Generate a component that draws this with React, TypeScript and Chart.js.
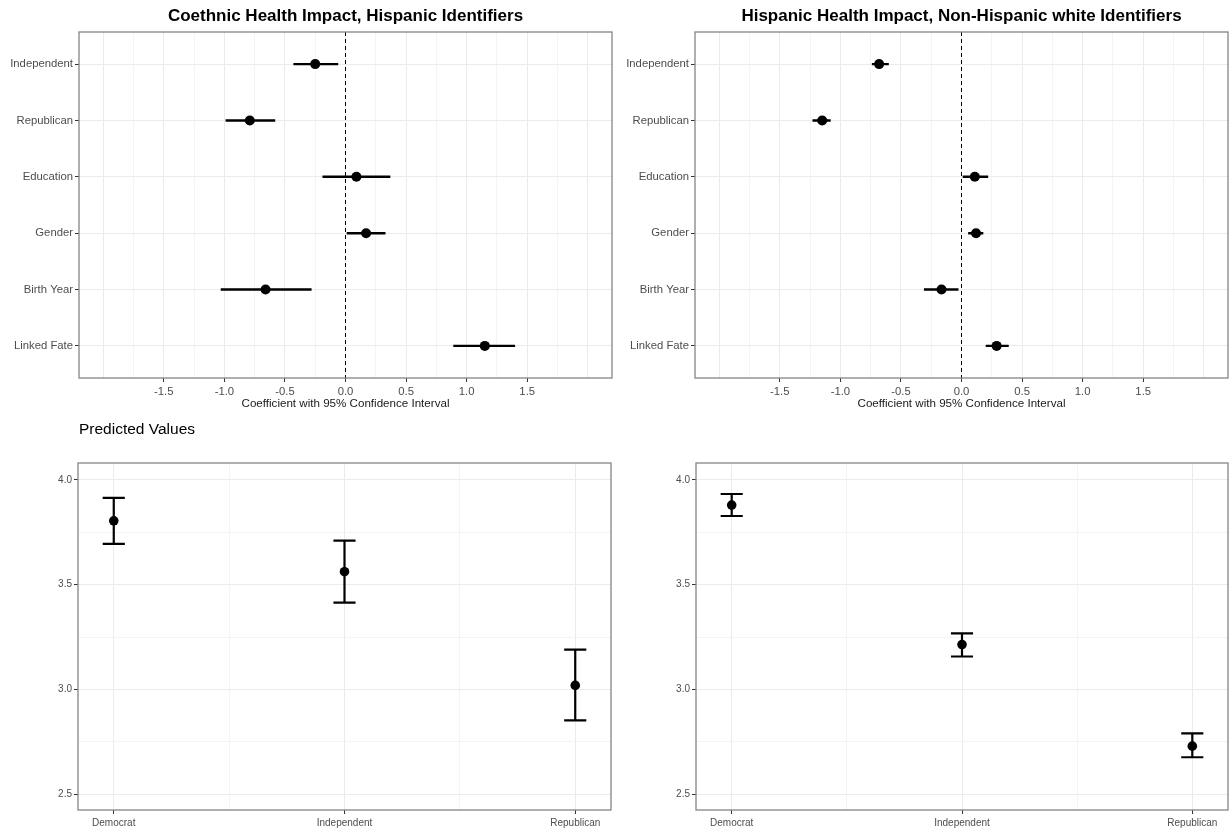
import React, { useEffect, useRef } from "react";
import { Chart, registerables } from "chart.js";

Chart.register(...registerables);

// ---- coefficient panels ----
const coefTerms = ["Independent", "Republican", "Education", "Gender", "Birth Year", "Linked Fate"];
const coefTickLabels = [-1.5, -1.0, -0.5, 0.0, 0.5, 1.0, 1.5];
const zeroRef = 0;

// Coethnic health impact, Hispanic identifiers
const hispEst = [-0.25, -0.79, 0.09, 0.17, -0.66, 1.15];
const hispLow = [-0.43, -0.99, -0.19, 0.01, -1.03, 0.89];
const hispHigh = [-0.06, -0.58, 0.37, 0.33, -0.28, 1.4];

// Hispanic health impact, non-Hispanic white identifiers
const whiteEst = [-0.68, -1.15, 0.11, 0.12, -0.165, 0.29];
const whiteLow = [-0.74, -1.23, 0.01, 0.055, -0.31, 0.2];
const whiteHigh = [-0.6, -1.08, 0.22, 0.18, -0.025, 0.39];

// ---- predicted values panels ----
const parties = ["Democrat", "Independent", "Republican"];
const predTickLabels = [2.5, 3.0, 3.5, 4.0];
const hispPred = [3.805, 3.562, 3.019];
const hispPredLow = [3.695, 3.414, 2.852];
const hispPredHigh = [3.914, 3.71, 3.19];
const whitePred = [3.88, 3.214, 2.729];
const whitePredLow = [3.828, 3.157, 2.676];
const whitePredHigh = [3.933, 3.267, 2.79];

const FONT = "'Liberation Sans', Arial, Helvetica, sans-serif";
const TICK_COL = "#4d4d4d";
const GRID_MAJOR = "#ebebeb";
const GRID_MINOR = "#f4f4f4";
const BORDER_COL = "#858585";
const COEF_X = [-2.2, 2.2];
const COEF_Y = [-0.57, 5.57];
const CAP = 0.048;

const isHalf = (v: number) => Math.abs(v * 2 - Math.round(v * 2)) < 1e-6;
const steps = (from: number, to: number, by: number) => {
  const out: { value: number }[] = [];
  for (let v = from; v <= to + 1e-9; v += by) out.push({ value: Math.round(v * 1000) / 1000 });
  return out;
};

// panel border + optional titles drawn on top
const framePlugin = (title: string | null, bold: boolean, alignLeft: boolean) => ({
  id: "frame",
  afterDraw(chart: any) {
    const { ctx, chartArea: a } = chart;
    ctx.save();
    ctx.strokeStyle = BORDER_COL;
    ctx.lineWidth = 1.3;
    ctx.strokeRect(a.left, a.top, a.right - a.left, a.bottom - a.top);
    if (title) {
      ctx.fillStyle = "#000";
      ctx.textBaseline = "middle";
      if (alignLeft) {
        ctx.font = `15.5px ${FONT}`;
        ctx.textAlign = "left";
        ctx.fillText(title, a.left + 1, 15);
      } else {
        ctx.font = `${bold ? "bold " : ""}17px ${FONT}`;
        ctx.textAlign = "center";
        ctx.fillText(title, (a.left + a.right) / 2, 16);
      }
    }
    ctx.restore();
  },
});

const ciSegments = (low: number[], high: number[]) =>
  low.flatMap((lo, i) => [
    { x: lo, y: i },
    { x: high[i], y: i },
    { x: null, y: null },
  ]);

const errorBars = (low: number[], high: number[]) =>
  low.flatMap((lo, i) => [
    { x: i, y: lo },
    { x: i, y: high[i] },
    { x: null, y: null },
    { x: i - CAP, y: lo },
    { x: i + CAP, y: lo },
    { x: null, y: null },
    { x: i - CAP, y: high[i] },
    { x: i + CAP, y: high[i] },
    { x: null, y: null },
  ]);

const fixX = (h: number) => (s: any) => {
  s.height = h;
};
const fixY = (w: number) => (s: any) => {
  s.width = w;
};

const coefConfig = (title: string, est: number[], low: number[], high: number[], yWidth: number, padRight: number) => ({
  type: "line",
  data: {
    datasets: [
      {
        data: [
          { x: zeroRef, y: COEF_Y[0] },
          { x: zeroRef, y: COEF_Y[1] },
        ],
        borderColor: "#000",
        borderWidth: 1,
        borderDash: [4, 3],
        pointRadius: 0,
      },
      {
        data: ciSegments(low, high),
        borderColor: "#000",
        borderWidth: 2.4,
        pointRadius: 0,
        spanGaps: false,
      },
      {
        data: est.map((v, i) => ({ x: v, y: i })),
        showLine: false,
        pointRadius: 5,
        pointBackgroundColor: "#000",
        pointBorderColor: "#000",
        pointBorderWidth: 0,
      },
    ],
  },
  options: {
    animation: false,
    responsive: false,
    layout: { autoPadding: false, padding: { top: 32, right: padRight, bottom: 0, left: 0 } },
    plugins: { legend: { display: false }, tooltip: { enabled: false } },
    scales: {
      x: {
        type: "linear",
        min: COEF_X[0],
        max: COEF_X[1],
        afterBuildTicks: (s: any) => {
          s.ticks = steps(-2, 2, 0.25);
        },
        afterFit: fixX(37),
        border: { display: false },
        grid: {
          color: (c: any) => (isHalf(c.tick.value) ? GRID_MAJOR : GRID_MINOR),
          tickColor: (c: any) =>
            coefTickLabels.includes(c.tick.value) ? "#333" : "rgba(0,0,0,0)",
          tickLength: 4,
        },
        ticks: {
          autoSkip: false,
          maxRotation: 0,
          padding: 3,
          color: TICK_COL,
          font: { family: FONT, size: 11.3 },
          callback: (v: number) => (coefTickLabels.includes(v) ? v.toFixed(1) : ""),
        },
        title: {
          display: true,
          text: "Coefficient with 95% Confidence Interval",
          color: "#1a1a1a",
          font: { family: FONT, size: 11.6 },
          padding: { top: 0, bottom: 4 },
        },
      },
      y: {
        type: "linear",
        reverse: true,
        min: COEF_Y[0],
        max: COEF_Y[1],
        afterBuildTicks: (s: any) => {
          s.ticks = coefTerms.map((_, i) => ({ value: i }));
        },
        afterFit: fixY(yWidth),
        border: { display: false },
        grid: { color: GRID_MAJOR, tickColor: "#333", tickLength: 4 },
        ticks: {
          autoSkip: false,
          padding: 2,
          color: TICK_COL,
          font: { family: FONT, size: 11.3 },
          callback: (v: number) => coefTerms[v],
        },
      },
    },
  },
  plugins: [framePlugin(title, true, false)],
});

const predConfig = (
  title: string | null,
  est: number[],
  low: number[],
  high: number[],
  yWidth: number,
  padRight: number
) => ({
  type: "line",
  data: {
    datasets: [
      {
        data: errorBars(low, high),
        borderColor: "#000",
        borderWidth: 2.2,
        pointRadius: 0,
        spanGaps: false,
      },
      {
        data: est.map((v, i) => ({ x: i, y: v })),
        showLine: false,
        pointRadius: 4.8,
        pointBackgroundColor: "#000",
        pointBorderColor: "#000",
        pointBorderWidth: 0,
      },
    ],
  },
  options: {
    animation: false,
    responsive: false,
    layout: { autoPadding: false, padding: { top: 48, right: padRight, bottom: 0, left: 0 } },
    plugins: { legend: { display: false }, tooltip: { enabled: false } },
    scales: {
      x: {
        type: "linear",
        min: -0.155,
        max: 2.155,
        afterBuildTicks: (s: any) => {
          s.ticks = steps(0, 2, 0.5);
        },
        afterFit: fixX(22),
        border: { display: false },
        grid: {
          color: (c: any) => (Number.isInteger(c.tick.value) ? GRID_MAJOR : GRID_MINOR),
          tickColor: (c: any) => (Number.isInteger(c.tick.value) ? "#333" : "rgba(0,0,0,0)"),
          tickLength: 4,
        },
        ticks: {
          autoSkip: false,
          maxRotation: 0,
          padding: 3,
          color: TICK_COL,
          font: { family: FONT, size: 10 },
          callback: (v: number) => (Number.isInteger(v) ? parties[v] : ""),
        },
      },
      y: {
        type: "linear",
        min: 2.424,
        max: 4.081,
        afterBuildTicks: (s: any) => {
          s.ticks = steps(2.5, 4, 0.25);
        },
        afterFit: fixY(yWidth),
        border: { display: false },
        grid: {
          color: (c: any) => (predTickLabels.includes(c.tick.value) ? GRID_MAJOR : GRID_MINOR),
          tickColor: (c: any) => (predTickLabels.includes(c.tick.value) ? "#333" : "rgba(0,0,0,0)"),
          tickLength: 4,
        },
        ticks: {
          autoSkip: false,
          padding: 2,
          color: TICK_COL,
          font: { family: FONT, size: 10 },
          callback: (v: number) => (predTickLabels.includes(v) ? v.toFixed(1) : ""),
        },
      },
    },
  },
  plugins: [framePlugin(title, false, true)],
});

const Panel: React.FC<{ left: number; top: number; width: number; height: number; config: () => any }> = ({
  left,
  top,
  width,
  height,
  config,
}) => {
  const ref = useRef<HTMLCanvasElement | null>(null);

  useEffect(() => {
    if (!ref.current) return;
    const chart = new Chart(ref.current, config());
    return () => {
      chart.destroy();
    };
  }, []);

  return (
    <div style={{ position: "absolute", left, top, width, height }}>
      <canvas ref={ref} width={width} height={height} style={{ width, height, display: "block" }} />
    </div>
  );
};

export default function App() {
  return (
    <div style={{ position: "absolute", left: 0, top: 0, width: 1229, height: 832, background: "#fff" }}>
      <Panel
        left={0}
        top={0}
        width={615}
        height={415}
        config={() =>
          coefConfig("Coethnic Health Impact, Hispanic Identifiers", hispEst, hispLow, hispHigh, 79, 3)
        }
      />
      <Panel
        left={615}
        top={0}
        width={614}
        height={415}
        config={() =>
          coefConfig("Hispanic Health Impact, Non-Hispanic white Identifiers", whiteEst, whiteLow, whiteHigh, 80, 1)
        }
      />
      <Panel
        left={0}
        top={415}
        width={615}
        height={417}
        config={() => predConfig("Predicted Values", hispPred, hispPredLow, hispPredHigh, 78, 4)}
      />
      <Panel
        left={615}
        top={415}
        width={614}
        height={417}
        config={() => predConfig(null, whitePred, whitePredLow, whitePredHigh, 81, 1)}
      />
    </div>
  );
}
